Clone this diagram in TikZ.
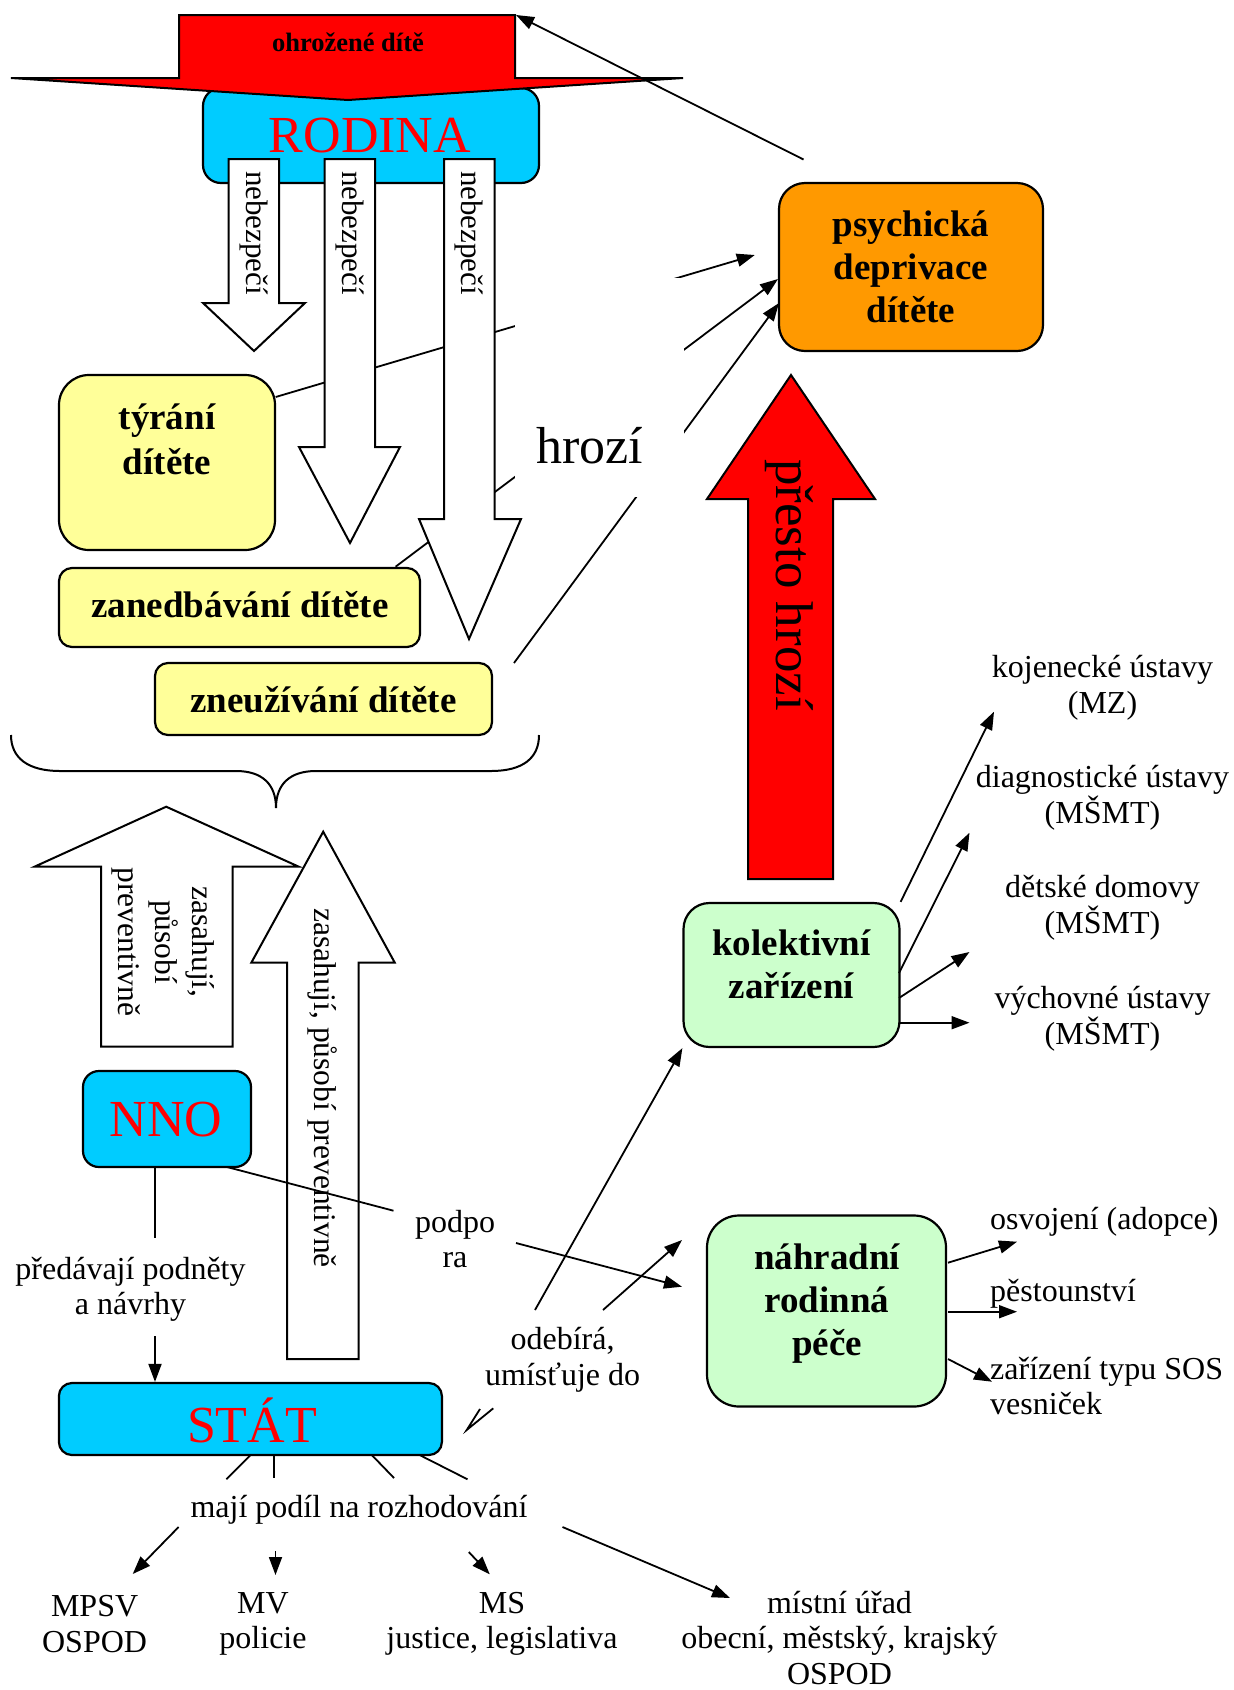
\documentclass[tikz,border=0pt]{standalone}
\usepackage{fontspec}
\setmainfont{Liberation Serif}
\usetikzlibrary{arrows.meta,calc}
\definecolor{cyanc}{HTML}{00CCFF}
\definecolor{redc}{HTML}{FF0000}
\definecolor{yellowc}{HTML}{FFFF99}
\definecolor{orangec}{HTML}{FF9900}
\definecolor{greenc}{HTML}{CCFFCC}
\newcommand\myLab{\fontsize{32}{35.5}\selectfont}
\newcommand\myBoxF{\fontsize{37}{43}\selectfont\bfseries}
\newcommand\myBig{\fontsize{52}{56}\selectfont}
\newcommand\myNeb{\fontsize{31}{37}\selectfont}
\begin{document}
\begin{tikzpicture}[x=1pt,y=-1pt,
  boxst/.style={draw=black,line width=2.2pt,inner sep=0pt},
  arr/.style={line width=1.8pt,-{Triangle[length=18pt,width=13pt]}},
  ln/.style={line width=1.8pt},
  shapest/.style={draw=black,line width=2pt,line join=miter},
  lab/.style={inner sep=0pt,align=center,font=\myLab},
  boxlab/.style={inner sep=0pt,align=center,font=\myBoxF},
  vlab/.style={inner sep=0pt,align=center,rotate=-90},
]
\useasboundingbox[fill=white] (0,0) rectangle (1234,1690);

% ---------- RODINA and threatened child ----------
\node[boxst,fill=cyanc,rounded corners=18pt,minimum width=336pt,minimum height=95pt] (rodina) at (371,135.5) {};
\node[anchor=base,text=redc,font=\myBig,inner sep=0pt] (rodinaT) at (370,152) {RODINA};
\draw[shapest,fill=redc] (179,15) -- (515,15) -- (515,78) -- (683,78) -- (348,100) -- (11,78) -- (179,78) -- cycle;
\node[anchor=base,font=\fontsize{26.5}{30}\selectfont\bfseries,inner sep=0pt] (ohr) at (348,51) {ohrožené dítě};
\coordinate (ohrCorner) at (516,15);

% ---------- boxes at left ----------
\node[boxst,fill=yellowc,rounded corners=30pt,minimum width=216pt,minimum height=175pt] (tyrani) at (167,462.5) {};
\node[boxlab,font=\fontsize{37}{45}\selectfont\bfseries] (tyraniT) at (167,439) {týrání\\dítěte};
\node[boxst,fill=yellowc,rounded corners=13pt,minimum width=361pt,minimum height=79pt] (zaned) at (239.5,607.5) {};
\node[boxlab] (zanedT) at (240,605) {zanedbávání dítěte};
\node[boxst,fill=yellowc,rounded corners=13pt,minimum width=337pt,minimum height=72pt] (zneuz) at (323.5,699) {};
\node[boxlab] (zneuzT) at (323.5,700) {zneužívání dítěte};

% ---------- psychická deprivace ----------
\node[boxst,fill=orangec,rounded corners=26pt,minimum width=264pt,minimum height=168pt] (psych) at (911,267) {};
\node[boxlab] (psychT) at (911,267) {psychická\\deprivace\\dítěte};

% ---------- lines "hrozí" ----------
\coordinate (h1s) at (275.7,397);
\coordinate (h1e) at (754.8,255);
\coordinate (h2s) at (395.6,566.7);
\coordinate (h2e) at (778,279);
\coordinate (h3s) at (514,663);
\coordinate (h3e) at (779,303);
\draw[arr] (h1s) -- (h1e);
\draw[arr] (h2s) -- (h2e);
\draw[arr] (h3s) -- (h3e);

% ---------- nebezpečí arrows ----------
\draw[shapest,fill=white] (228.6,159) -- (279,159) -- (279,303) -- (305,303) -- (254,351) -- (203,303) -- (228.6,303) -- cycle;
\draw[shapest,fill=white] (324.5,159) -- (375,159) -- (375,447) -- (400,447) -- (350,543) -- (299,447) -- (324.5,447) -- cycle;
\draw[shapest,fill=white] (444,159) -- (494.5,159) -- (494.5,519) -- (521,519) -- (469,639) -- (419,519) -- (444,519) -- cycle;
\node[vlab,font=\myNeb] (neb1) at (254,233) {nebezpečí};
\node[vlab,font=\myNeb] (neb2) at (350,233) {nebezpečí};
\node[vlab,font=\myNeb] (neb3) at (469,233) {nebezpečí};

% white label box hiding the middle of the lines
\node[fill=white,inner sep=0pt,minimum width=169pt,minimum height=219pt] (hroziBox) at (599.5,387.5) {};
\node[anchor=base,font=\myBig,inner sep=0pt] (hrozi) at (589.5,463) {hrozí};

% arrow from deprivation back to the threatened child
\coordinate (depTop) at (803.5,159.5);
\draw[arr] (depTop) -- (ohrCorner);

% ---------- přesto hrozí ----------
\draw[shapest,fill=redc] (748,879) -- (748,499) -- (707,499) -- (791,375) -- (875,499) -- (833,499) -- (833,879) -- cycle;
\node[vlab,font=\fontsize{53}{58}\selectfont] (presto) at (789,585) {přesto hrozí};

% ---------- kolektivní zařízení ----------
\node[boxst,fill=greenc,rounded corners=26pt,minimum width=216pt,minimum height=144pt] (kol) at (791.5,975) {};
\node[boxlab] (kolT) at (791.5,964) {kolektivní\\zařízení};
\node[lab] (koj) at (1102.5,688) {kojenecké ústavy\\(MZ)};
\node[lab] (diag) at (1102.5,798) {diagnostické ústavy\\(MŠMT)};
\node[lab] (detske) at (1102.5,908) {dětské domovy\\(MŠMT)};
\node[lab] (vych) at (1102.5,1019) {výchovné ústavy\\(MŠMT)};
\coordinate (k1e) at (994,711.7);
\coordinate (k2s) at (899,973);
\coordinate (k2e) at (969.5,832.7);
\coordinate (k3s) at (899,998);
\coordinate (k3e) at (969.5,952);
\coordinate (k4s) at (899,1022.7);
\coordinate (k4e) at (969.5,1022.7);
\draw[arr] (kol.north east) -- (k1e);
\draw[arr] (k2s) -- (k2e);
\draw[arr] (k3s) -- (k3e);
\draw[arr] (k4s) -- (k4e);

% ---------- náhradní rodinná péče ----------
\node[boxst,fill=greenc,rounded corners=32pt,minimum width=239pt,minimum height=191pt] (nrp) at (826.5,1311) {};
\node[boxlab] (nrpT) at (827,1304) {náhradní\\rodinná\\péče};
\node[lab,anchor=west] (osvo) at (990,1222) {osvojení (adopce)};
\node[lab,anchor=west] (pest) at (990,1294) {pěstounství};
\node[lab,anchor=west,align=left] (sos) at (990,1386) {zařízení typu SOS\\vesniček};
\coordinate (n1s) at (948,1262.7);
\coordinate (n1e) at (1017,1241.7);
\coordinate (n2s) at (948,1311.7);
\coordinate (n2e) at (1017,1311.7);
\coordinate (n3s) at (948,1359);
\coordinate (n3e) at (992,1381.7);
\draw[arr] (n1s) -- (n1e);
\draw[arr] (n2s) -- (n2e);
\draw[arr] (n3s) -- (n3e);

% ---------- brace ----------
\draw[line width=2pt] (11,735) .. controls (11,758) and (28,771) .. (60,771) -- (236,771)
  .. controls (262,771) and (276,784) .. (276,808)
  .. controls (276,784) and (290,771) .. (316,771) -- (491,771)
  .. controls (523,771) and (539,758) .. (539,735);

% ---------- up arrows ----------
\draw[shapest,fill=white] (101,1046.7) -- (101,866.7) -- (34.5,866.7) -- (166.2,806.7) -- (298.8,866.7) -- (232.7,866.7) -- (232.7,1046.7) -- cycle;
\node[vlab,font=\fontsize{31.5}{37}\selectfont] (zas1) at (163,942) {zasahují,\\působí\\preventivně};
\draw[shapest,fill=white] (287,1359) -- (287,962.7) -- (251.3,962.7) -- (323.2,831.7) -- (394.8,962.7) -- (358.5,962.7) -- (358.5,1359) -- cycle;
\node[vlab,font=\fontsize{31.5}{37}\selectfont] (zas2) at (323,1088) {zasahují, působí preventivně};

% ---------- NNO ----------
\node[boxst,fill=cyanc,rounded corners=16pt,minimum width=168pt,minimum height=96pt] (nno) at (167,1119) {};
\node[anchor=base,text=redc,font=\myBig,inner sep=0pt] (nnoT) at (166,1136) {NNO};
\node[lab] (podpora) at (455,1239) {podpo\\ra};
\coordinate (nnoOut) at (227,1167);
\coordinate (podIn) at (393.5,1210.7);
\draw[ln] (nnoOut) -- (podIn);
\coordinate (podOut) at (516,1243);
\coordinate (podTip) at (682,1286.7);
\draw[arr] (podOut) -- (podTip);

\node[lab] (predav) at (130.5,1289.5) {předávají podněty\\a návrhy};
\coordinate (nnoDown) at (155,1167);
\coordinate (predTop) at (155,1238);
\coordinate (predBot) at (155,1336);
\draw[ln] (nnoDown) -- (predTop);

% ---------- STÁT ----------
\node[boxst,fill=cyanc,rounded corners=13pt,minimum width=383pt,minimum height=72pt] (stat) at (250.4,1419) {};
\node[anchor=base,text=redc,font=\myBig,inner sep=0pt] (statT) at (252,1442) {STÁT};
\draw[arr] (predBot) -- (predBot |- stat.north);

\node[lab] (odebira) at (562.6,1360) {odebírá,\\umísťuje do};
\coordinate (o1s) at (535,1310);
\coordinate (o2s) at (603,1310);
\coordinate (o2e) at (682,1240);
\draw[arr] (o1s) -- (kol.south west);
\draw[arr] (o2s) -- (o2e);
\coordinate (vA) at (480,1409);
\coordinate (vTip) at (466.7,1430);
\coordinate (vB) at (493.3,1408.3);
\draw[line width=1.8pt,line join=miter] (vA) -- (vTip) -- (vB);

% lines from STÁT to "mají podíl"
\node[lab] (maji) at (359,1510) {mají podíl na rozhodování};
\draw[ln] (250.6,1455) -- (226.4,1479.3);
\draw[ln] (274,1455) -- (274,1478);
\draw[ln] (371.8,1455) -- (394,1478);
\draw[ln] (419.6,1455) -- (467.5,1479.3);

\node[lab] (mpsv) at (94.6,1624) {MPSV\\OSPOD};
\node[lab] (mv) at (263,1624) {MV\\policie};
\node[lab] (ms) at (502,1624) {MS\\justice, legislativa};
\node[lab] (mistni) at (839.5,1638) {místní úřad\\obecní, městský, krajský\\OSPOD};
\draw[arr] (178.6,1527) -- (132.7,1574);
\draw[arr] (275.5,1551) -- (275.5,1575);
\draw[arr] (468.8,1552) -- (489.8,1574.3);
\draw[arr] (562.5,1527) -- (730,1598);
\end{tikzpicture}
\end{document}
